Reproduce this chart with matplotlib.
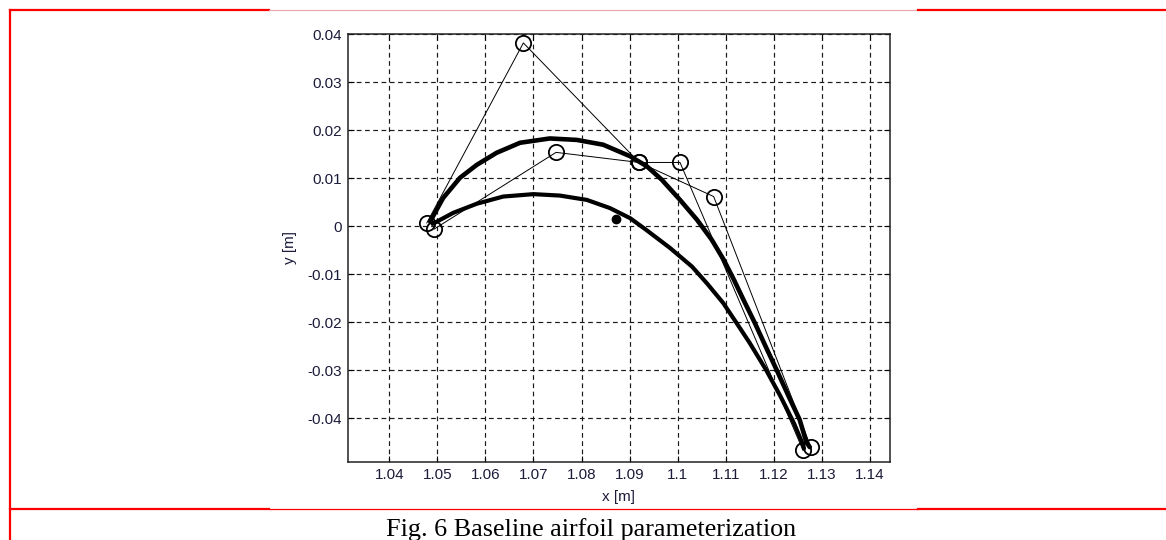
import matplotlib
matplotlib.use("Agg")
import matplotlib.pyplot as plt
from matplotlib.ticker import FixedLocator, FuncFormatter

plt.rcParams['axes.unicode_minus'] = False

# Bezier control polygons (suction side / pressure side)
ctrl_upper_x = [1.0478, 1.0679, 1.0920, 1.1075, 1.1277]
ctrl_upper_y = [0.0007, 0.0382, 0.0133, 0.0062, -0.0459]
ctrl_lower_x = [1.0493, 1.0747, 1.0920, 1.1005, 1.1261]
ctrl_lower_y = [-0.0006, 0.0154, 0.0133, 0.0133, -0.0467]

# baseline airfoil surfaces
upper_x = [1.0485, 1.0512, 1.0547, 1.0582, 1.0623, 1.0672, 1.0734, 1.0790,
           1.0845, 1.0901, 1.0936, 1.0967, 1.1005, 1.1040, 1.1071, 1.1096,
           1.1117, 1.1137, 1.1161, 1.1183, 1.1206, 1.1231, 1.1254, 1.1268,
           1.1275]
upper_y = [0.0010, 0.0059, 0.0101, 0.0128, 0.0153, 0.0174, 0.0183, 0.0180,
           0.0170, 0.0146, 0.0125, 0.0097, 0.0055, 0.0014, -0.0028, -0.0070,
           -0.0111, -0.0153, -0.0202, -0.0250, -0.0299, -0.0354, -0.0403,
           -0.0450, -0.0460]
lower_x = [1.0490, 1.0533, 1.0582, 1.0637, 1.0700, 1.0755, 1.0811, 1.0859,
           1.0901, 1.0934, 1.0984, 1.1030, 1.1062, 1.1095, 1.1123, 1.1150,
           1.1184, 1.1214, 1.1242, 1.1261, 1.1263]
lower_y = [0.0005, 0.0028, 0.0047, 0.0062, 0.0067, 0.0064, 0.0055, 0.0038,
           0.0017, -0.0007, -0.0045, -0.0084, -0.0120, -0.0160, -0.0202,
           -0.0243, -0.0299, -0.0354, -0.0410, -0.0455, -0.0463]

# reference point
ref_x = [1.0872]
ref_y = [0.0015]

x_ticks = [1.04, 1.05, 1.06, 1.07, 1.08, 1.09, 1.10, 1.11, 1.12, 1.13, 1.14]
y_ticks = [-0.04, -0.03, -0.02, -0.01, 0.0, 0.01, 0.02, 0.03, 0.04]

W, H = 1166, 540
fig = plt.figure(figsize=(W / 100, H / 100), dpi=100)

# page frame (table cell borders)
frame = fig.add_axes([0, 0, 1, 1])
frame.set_xlim(0, W)
frame.set_ylim(H, 0)
frame.axis('off')
red = '#ff0000'
frame.plot([10, 269], [10, 10], color=red, lw=1.6)
frame.plot([269, 918], [10, 10], color='#e8a3ab', lw=0.8)
frame.plot([918, W], [10, 10], color=red, lw=1.6)
frame.plot([10, 269], [509, 509], color=red, lw=1.6)
frame.plot([269, 918], [509, 509], color=red, lw=0.9)
frame.plot([918, W], [509, 509], color=red, lw=1.6)
frame.plot([10, 10], [10, H], color=red, lw=1.6)

ax = fig.add_axes([348 / W, 1 - 461.5 / H, 542 / W, 427.2 / H])
ax.set_xlim(1.0314, 1.1442)
ax.set_ylim(-0.049, 0.04)

ax.xaxis.set_major_locator(FixedLocator(x_ticks))
ax.yaxis.set_major_locator(FixedLocator(y_ticks))
fmt = FuncFormatter(lambda v, p: '%g' % round(v, 4))
ax.xaxis.set_major_formatter(fmt)
ax.yaxis.set_major_formatter(fmt)

ax.grid(True, color='#1a1a1a', linestyle=(0, (4, 3)), linewidth=0.85)
ax.set_axisbelow(True)
ax.tick_params(direction='in', top=True, right=True, length=4, width=0.8,
               pad=4.5, labelsize=11, labelcolor='#1c1c3a')
for lab in ax.get_xticklabels() + ax.get_yticklabels():
    lab.set_family('Liberation Sans')
for s in ax.spines.values():
    s.set_linewidth(1.1)
    s.set_color('#222222')

# control polygons
ax.plot(ctrl_upper_x, ctrl_upper_y, color='black', lw=0.7)
ax.plot(ctrl_lower_x, ctrl_lower_y, color='black', lw=0.7)

# airfoil surfaces
ax.plot(upper_x, upper_y, color='black', lw=3.3, solid_capstyle='round',
        solid_joinstyle='round')
ax.plot(lower_x, lower_y, color='black', lw=3.0, solid_capstyle='round',
        solid_joinstyle='round')

ax.plot(ctrl_upper_x, ctrl_upper_y, 'o', mfc='none', mec='black', ms=11, mew=1.3)
ax.plot(ctrl_lower_x, ctrl_lower_y, 'o', mfc='none', mec='black', ms=11, mew=1.3)
ax.plot(ref_x, ref_y, 'o', color='black', ms=6)

ax.set_xlabel('x [m]', family='Liberation Sans', fontsize=11, color='#1c1c3a',
              labelpad=6)
ax.set_ylabel('y [m]', family='Liberation Sans', fontsize=11, color='#1c1c3a',
              labelpad=7)

fig.text(591.5 / W, 1 - 536 / H, 'Fig. 6 Baseline airfoil parameterization',
         family='Liberation Serif', fontsize=18.8, ha='center', va='baseline')

fig.savefig('out.png', dpi=100)
